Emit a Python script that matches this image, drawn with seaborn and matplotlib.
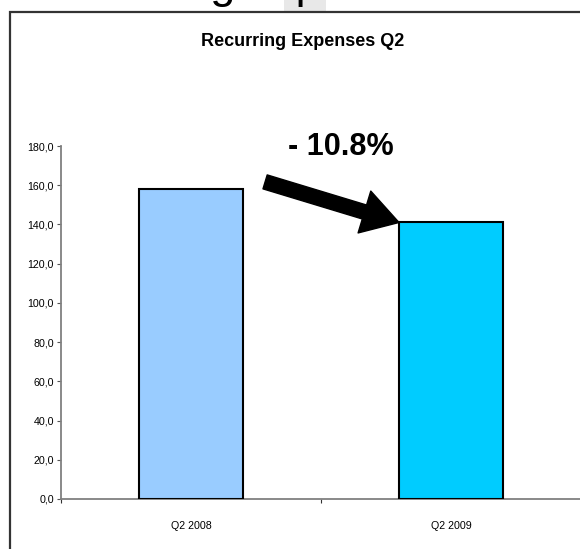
import matplotlib
matplotlib.use("Agg")
import matplotlib.pyplot as plt
from matplotlib.patches import Rectangle
from matplotlib.ticker import FuncFormatter, FixedLocator
import seaborn as sns
import pandas as pd

# Recurring expenses by quarter
quarters = ["Q2 2008", "Q2 2009"]
expenses = [158.0, 141.0]
bar_colors = ["#99CCFF", "#00CCFF"]
change_label = "- 10.8%"
chart_title = "Recurring Expenses Q2"
slide_title = "Recurring expenses"
y_ticks = [0, 20, 40, 60, 80, 100, 120, 140, 160, 180]

sns.set_style("white")
plt.rcParams["font.family"] = ["Liberation Sans", "DejaVu Sans"]
plt.rcParams["text.color"] = "black"
plt.rcParams["xtick.labelcolor"] = "black"
plt.rcParams["ytick.labelcolor"] = "black"

W, H = 580, 549
fig = plt.figure(figsize=(W / 100, H / 100), dpi=100)
fig.patch.set_facecolor("white")

# faint backdrop block behind the slide heading
fig.patches.append(Rectangle((284 / W, 1 - 11 / H), 42 / W, 11 / H,
                             transform=fig.transFigure, facecolor="#e8e8e8",
                             edgecolor="none", zorder=0))
# slide heading, mostly above the visible area
fig.text(40 / W, 1 + 2 / H, slide_title, fontsize=32.5, ha="left",
         va="baseline", color="black", zorder=2)

# chart frame
fig.patches.append(Rectangle((9.5 / W, -0.05), 1.2, (H - 11.5) / H + 0.05,
                             transform=fig.transFigure, fill=False,
                             edgecolor="#333333", linewidth=1.6, zorder=1))

fig.text(303 / W, 1 - 42 / H, chart_title, fontsize=13, fontweight="bold",
         ha="center", va="center", color="black")

ax = fig.add_axes([61 / W, 50 / H, 520 / W, 353 / H])
ax.set_facecolor("none")

df = pd.DataFrame({"quarter": quarters, "expenses": expenses})
sns.barplot(data=df, x="quarter", y="expenses", hue="quarter",
            palette=bar_colors, saturation=1, width=0.4, edgecolor="black",
            linewidth=1.5, legend=False, ax=ax, zorder=3)

ax.set_xlim(-0.5, 1.5)
ax.set_ylim(0, 180)
ax.set_xlabel("")
ax.set_ylabel("")

ax.yaxis.set_major_locator(FixedLocator(y_ticks))
ax.yaxis.set_major_formatter(FuncFormatter(lambda v, p: f"{v:.1f}".replace(".", ",")))
ax.tick_params(axis="y", direction="out", length=3, width=0.8, color="#555555",
               pad=2, labelsize=7.7, left=True, labelcolor="black")
ax.tick_params(axis="x", which="major", length=0, pad=16, labelsize=7.7,
               labelcolor="black")
ax.set_xticks([0, 1])
ax.set_xticklabels(quarters)
ax.xaxis.set_minor_locator(FixedLocator([-0.5, 0.5, 1.5]))
ax.tick_params(axis="x", which="minor", direction="out", length=3, width=0.8,
               color="#333333", bottom=True)

for side in ["top", "right"]:
    ax.spines[side].set_visible(False)
for side in ["left", "bottom"]:
    ax.spines[side].set_color("#808080")
    ax.spines[side].set_linewidth(1.3)

ax.annotate("", xy=(0.8, expenses[1]), xytext=(0.285, 161.7),
            arrowprops=dict(arrowstyle="simple,head_length=2.6,head_width=3.15,tail_width=1.05",
                            mutation_scale=10, fc="black", ec="black",
                            shrinkA=0, shrinkB=0),
            annotation_clip=False, zorder=5)

ax.text(0.577, 179.5, change_label, fontsize=22, fontweight="bold",
        color="black", ha="center", va="center", clip_on=False)

fig.savefig("out.png", dpi=100)
